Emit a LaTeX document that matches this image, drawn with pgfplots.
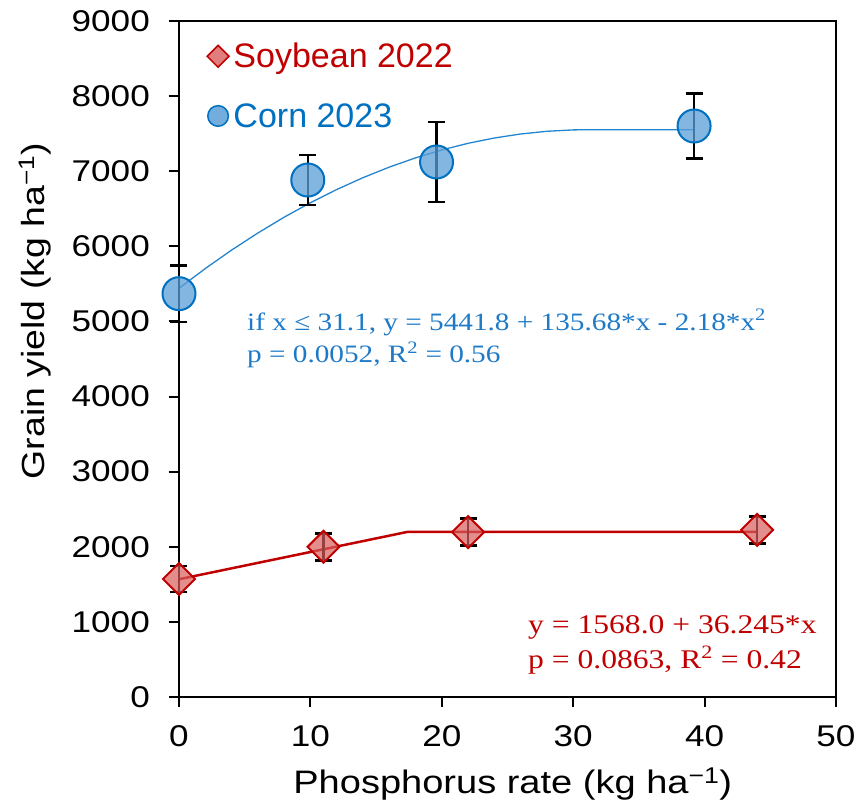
\documentclass[border=0pt]{standalone}
\usepackage{fontspec}
\setmainfont{Liberation Sans}[FakeStretch=1.17]
\newfontfamily\legfont{Liberation Sans}
\newfontfamily\eqfont{Liberation Serif}[FakeStretch=1.17]
\usepackage{pgfplots}
\pgfplotsset{compat=1.18}
\definecolor{soyred}{HTML}{C00000}
\definecolor{soyfill}{HTML}{D95C5C}
\definecolor{cornblue}{HTML}{0070C0}
\definecolor{cornfill}{HTML}{5A9FD8}
\definecolor{eqblue}{HTML}{1E7AC8}
\definecolor{fitblue}{HTML}{2385D0}
\begin{document}
\begin{tikzpicture}
\useasboundingbox (-179pt,-109pt) rectangle (677pt,697pt);
\begin{axis}[
  at={(0pt,0pt)}, anchor=south west,
  scale only axis, width=657pt, height=676pt,
  xmin=0, xmax=50, ymin=0, ymax=9000,
  clip=false,
  xtick={0,10,20,30,40,50}, ytick={0,1000,2000,3000,4000,5000,6000,7000,8000,9000},
  axis line style={line width=2pt, black},
  every tick/.style={line width=2pt, black},
  tick align=outside, major tick length=10pt,
  xtick pos=bottom, ytick pos=left,
  scaled y ticks=false,
  /pgf/number format/assume math mode=true,
  /pgf/number format/1000 sep={},
  ticklabel style={font=\fontsize{30}{30}\selectfont},
  yticklabel style={inner sep=0pt, xshift=-19pt},
  xticklabel style={inner sep=0pt, yshift=-18pt},
  xlabel={Phosphorus rate (kg ha\textsuperscript{−1})},
  ylabel={Grain yield (kg ha\textsuperscript{−1})},
  xlabel style={font=\fontsize{32.5}{32.5}\selectfont, at={(axis description cs:0.508,0)}, anchor=base, yshift=-96pt, inner sep=0pt},
  ylabel style={font=\fontsize{32}{32}\selectfont, at={(axis description cs:-0.219,0.571)}, anchor=center, inner sep=0pt},
  legend style={at={(rel axis cs:0,1)}, anchor=north west, draw=none, fill=none,
    font=\legfont\fontsize{34}{34}\selectfont, row sep=30pt, xshift=25pt, yshift=-18pt,
    nodes={inner xsep=4.5pt}},
  legend cell align=left,
  legend image code/.code={\draw[#1] plot coordinates {(0pt,0pt)};},
  ebar/.style={forget plot, draw=none, mark=none,
    error bars/.cd, y dir=both, y explicit,
    error bar style={line width=2.5pt, black},
    error mark options={rotate=90, mark size=8.5pt, line width=2.5pt, black}},
]
% fitted curves
\addplot[forget plot, fitblue, line width=1.3pt] coordinates {
  (0,5441.8) (2,5704.4) (4,5949.6) (6,6177.4) (8,6387.7) (10,6580.6)
  (12,6756.0) (14,6914.0) (16,7054.6) (18,7177.7) (20,7283.4) (22,7371.6)
  (24,7442.4) (26,7495.8) (28,7531.7) (30,7550.2) (31.1,7552.9) (39.2,7552.9)};
\addplot[forget plot, soyred, line width=2.5pt] coordinates {
  (0,1568.0) (17.4,2198.7) (44,2198.7)};
% corn data
\addplot[forget plot, only marks, mark=*, mark size=16.5pt,
  mark options={draw=cornblue, fill=cornfill, line width=2pt, fill opacity=0.75}]
  coordinates {(0,5370) (9.8,6883) (19.6,7123) (39.2,7602)};
\addplot[ebar] coordinates {
  (0,5370) +- (0,375)
  (9.8,6883) +- (0,333)
  (19.6,7123) +- (0,530)
  (39.2,7602) +- (0,433)};
% soybean data
\addplot[forget plot, only marks, mark=square*, mark size=11.3pt,
  mark options={rotate=45, draw=soyred, fill=soyfill, line width=2pt, fill opacity=0.7}]
  coordinates {(0,1571) (11,2000) (22,2195) (44,2225)};
\addplot[ebar] coordinates {
  (0,1571) +- (0,175)
  (11,2000) +- (0,180)
  (22,2195) +- (0,180)
  (44,2225) +- (0,180)};
\addlegendimage{only marks, mark=square*, mark size=7.7pt, mark options={rotate=45, draw=soyred, fill=soyfill!80!white, line width=1.5pt}}
\addlegendentry{\textcolor{soyred}{Soybean 2022}}
\addlegendimage{only marks, mark=*, mark size=10.3pt, mark options={draw=cornblue, fill=cornfill!85!white, line width=1.5pt}}
\addlegendentry{\textcolor{cornblue}{Corn 2023}}
\node[anchor=base west, inner sep=0pt, text=eqblue, font=\eqfont\fontsize{25}{25}\selectfont] at (axis cs:5.17,4886) {if x ≤ 31.1, y = 5441.8 + 135.68*x - 2.18*x\textsuperscript{2}};
\node[anchor=base west, inner sep=0pt, text=eqblue, font=\eqfont\fontsize{25}{25}\selectfont] at (axis cs:5.17,4447) {p = 0.0052, R\textsuperscript{2} = 0.56};
\node[anchor=base west, inner sep=0pt, text=soyred, font=\eqfont\fontsize{27}{27}\selectfont] at (axis cs:26.56,852) {y = 1568.0 + 36.245*x};
\node[anchor=base west, inner sep=0pt, text=soyred, font=\eqfont\fontsize{27}{27}\selectfont] at (axis cs:26.56,386) {p = 0.0863, R\textsuperscript{2} = 0.42};
\end{axis}
\end{tikzpicture}
\end{document}
